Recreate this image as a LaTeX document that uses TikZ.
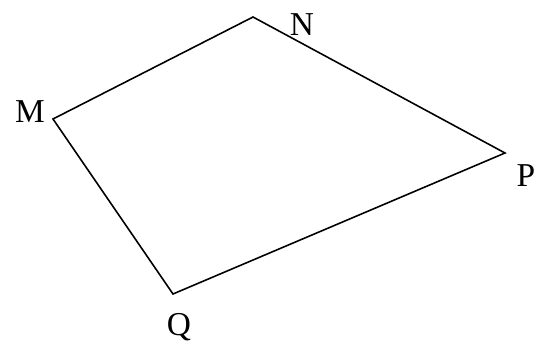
\documentclass[tikz,border=0pt]{standalone}
\usepackage{fontspec}
\setmainfont{Liberation Serif}
\usepackage{tikz}
\usetikzlibrary{positioning}
\tikzset{
  quad/.style={line width=0.9pt, line join=miter},
  vlabel/.style={font=\fontsize{19}{22}\selectfont, inner sep=0pt}
}

\begin{document}
\begin{tikzpicture}
\useasboundingbox (0,0) rectangle (10.76,6.98);
\coordinate (M) at (1.06,4.60);
\coordinate (N) at (5.06,6.64);
\coordinate (P) at (10.10,3.92);
\coordinate (Q) at (3.46,1.10);
\draw[quad] (M) -- (N) -- (P) -- (Q) -- cycle;
\node[vlabel] (lblM) at (0.60,4.74) {M};
\node[vlabel] (lblN) at (6.04,6.48) {N};
\node[vlabel] (lblP) at (10.52,3.46) {P};
\node[vlabel] (lblQ) at (3.58,0.44) {Q};
\end{tikzpicture}
\end{document}
